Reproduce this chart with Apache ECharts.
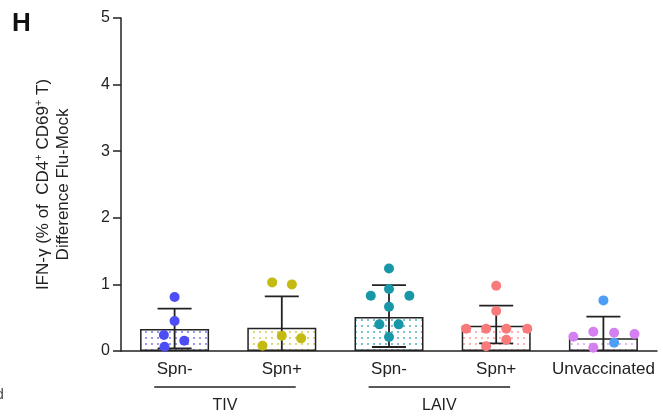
<!DOCTYPE html>
<html>
<head>
<meta charset="utf-8">
<script src="https://cdn.jsdelivr.net/npm/echarts@6/dist/echarts.min.js"></script>
<style>
html,body{margin:0;padding:0;background:#fff;}
#chart{width:663px;height:417px;}
</style>
</head>
<body>
<div id="chart"></div>
<script>
// groups on the x axis
const cats = ['Spn-','Spn+','Spn-','Spn+','Unvaccinated'];
const colors = ['#4d4df5','#c4bb12','#1897a8','#f87a7a','#d57ff0'];
const unvacBlue = '#4d9ef7';
const barMean = [0.33, 0.35, 0.51, 0.38, 0.19];
const errHigh = [0.635, 0.82, 0.99, 0.68, 0.515];
const errLow  = [0.04, -0.12, 0.06, 0.115, -0.135];
const yTicks = [0,1,2,3,4,5];

// individual animals: jitter (fraction of category) and value
const tivNegDx = [0, 0, -0.10, 0.09, -0.094];
const tivNegY  = [0.81, 0.45, 0.24, 0.155, 0.065];
const tivPosDx = [-0.09, 0.094, 0, 0.18, -0.18];
const tivPosY  = [1.03, 1.0, 0.23, 0.19, 0.08];
const laivNegDx = [0, 0, -0.17, 0.19, 0, -0.09, 0.09, 0];
const laivNegY  = [1.24, 0.93, 0.83, 0.83, 0.665, 0.40, 0.40, 0.21];
const laivPosDx = [0, 0, -0.28, -0.094, 0.094, 0.29, 0.094, -0.094];
const laivPosY  = [0.98, 0.60, 0.335, 0.335, 0.335, 0.335, 0.17, 0.07];
const unvacDx = [0, -0.28, -0.094, 0.10, 0.29, -0.094, 0.10];
const unvacY  = [0.76, 0.215, 0.29, 0.275, 0.255, 0.05, 0.125];
const unvacIsBlue = [1, 0, 0, 0, 0, 0, 1];

// vaccine brackets under the labels
const vaccines = ['TIV','LAIV'];
const vacFrom = [0, 2];
const vacTo = [1, 3];

const pointDx = [tivNegDx, tivPosDx, laivNegDx, laivPosDx, unvacDx];
const pointY = [tivNegY, tivPosY, laivNegY, laivPosY, unvacY];

const FONT = "'Liberation Sans', Arial, sans-serif";
const INK = '#222';

function dots(color){
  const c = document.createElement('canvas'); c.width = 6; c.height = 6;
  const g = c.getContext('2d');
  g.fillStyle = '#fff'; g.fillRect(0,0,6,6);
  g.fillStyle = color; g.globalAlpha = 0.85;
  g.beginPath(); g.arc(2,2,0.9,0,Math.PI*2); g.fill();
  return {image:c, repeat:'repeat'};
}

const scatterSeries = pointY.map((ys,gi)=>({
  type:'scatter', xAxisIndex:1, symbolSize:10, z:5,
  data: ys.map((y,k)=>({
    value:[gi + pointDx[gi][k], y],
    itemStyle:{color: gi===4 && unvacIsBlue[k] ? unvacBlue : colors[gi], opacity:1}
  }))
}));

const chart = echarts.init(document.getElementById('chart'));
chart.setOption({
  animation:false,
  grid:{left:121, right:6, top:18, bottom:66},
  xAxis:[{
    type:'category', data:cats,
    axisLine:{lineStyle:{color:INK, width:1.5}},
    axisTick:{alignWithLabel:true, length:8, lineStyle:{color:INK, width:1.5}},
    axisLabel:{fontSize:17, color:INK, fontFamily:FONT, margin:10, interval:0}
  },{
    type:'value', min:-0.5, max:4.5, show:false
  }],
  yAxis:{
    type:'value', min:0, max:5, interval:1,
    axisLine:{show:true, onZero:false, lineStyle:{color:INK, width:1.5}},
    axisTick:{show:true, length:8, lineStyle:{color:INK, width:1.5}},
    axisLabel:{fontSize:16, color:INK, fontFamily:FONT, margin:11,
      formatter:v=>yTicks.includes(v)?String(v):''},
    splitLine:{show:false},
    name:'{a|IFN-γ (% of  CD4}{s|+}{a| CD69}{s|+}{a| T)}\n{a|Difference Flu-Mock}',
    nameLocation:'middle', nameRotate:90, nameGap:48,
    nameTextStyle:{fontFamily:FONT, color:INK, align:'center',
      rich:{
        a:{fontSize:17, fontFamily:FONT, color:INK, lineHeight:20},
        s:{fontSize:11, fontFamily:FONT, color:INK, lineHeight:20, verticalAlign:'top'}
      }}
  },
  graphic:[
    {type:'text', left:12, top:11, style:{text:'H', font:'bold 26px '+FONT, fill:'#111'}},
    {type:'text', left:-4, top:388, style:{text:'d', font:'14px '+FONT, fill:'#444'}}
  ],
  series:[
    {
      type:'bar', data:barMean, barWidth:69, z:2,
      itemStyle:{color:(p)=>dots(colors[p.dataIndex]), borderColor:INK, borderWidth:1.5}
    },
    {
      type:'custom', xAxisIndex:1, z:4,
      data: barMean.map((m,i)=>[i, errLow[i], errHigh[i]]),
      renderItem:(params, api)=>{
        const i = api.value(0), lo = api.value(1), hi = api.value(2);
        const top = api.coord([i, hi]);
        const bot = api.coord([i, Math.max(lo,0)]);
        const half = 17;
        const st = {stroke:INK, lineWidth:1.8};
        const kids = [
          {type:'line', shape:{x1:top[0], y1:top[1], x2:bot[0], y2:bot[1]}, style:st},
          {type:'line', shape:{x1:top[0]-half, y1:top[1], x2:top[0]+half, y2:top[1]}, style:st}
        ];
        if(lo >= 0) kids.push({type:'line', shape:{x1:bot[0]-half, y1:bot[1], x2:bot[0]+half, y2:bot[1]}, style:st});
        return {type:'group', children:kids};
      }
    },
    ...scatterSeries,
    {
      type:'custom', xAxisIndex:1, clip:false, silent:true,
      data: vaccines.map((v,i)=>[vacFrom[i], vacTo[i], i]),
      renderItem:(params, api)=>{
        const a = api.coord([api.value(0) - 0.19, 0]);
        const b = api.coord([api.value(1) + 0.13, 0]);
        const name = vaccines[api.value(2)];
        return {type:'group', children:[
          {type:'line', shape:{x1:a[0], y1:a[1]+36, x2:b[0], y2:b[1]+36}, style:{stroke:INK, lineWidth:1.5}},
          {type:'text', style:{text:name, x:(a[0]+b[0])/2, y:a[1]+55, align:'center', verticalAlign:'middle',
            font:'16px '+FONT, fill:INK}}
        ]};
      }
    }
  ]
});
</script>
</body>
</html>
